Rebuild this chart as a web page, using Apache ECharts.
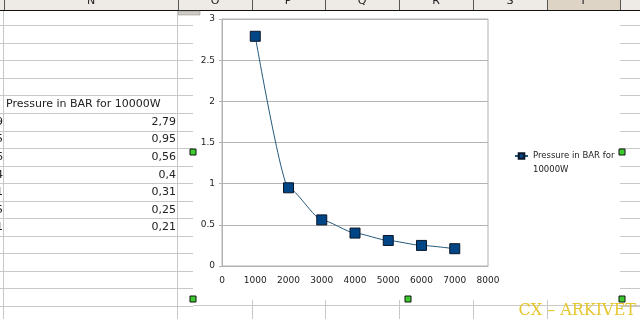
<!DOCTYPE html>
<html><head><meta charset="utf-8">
<script src="https://cdn.jsdelivr.net/npm/echarts@6/dist/echarts.min.js"></script>
<style>html,body{margin:0;padding:0;background:#fff}#c{width:640px;height:319px}</style>
</head><body><div id="c"></div>
<script>
// ---- data ----
const seriesName = 'Pressure in BAR for 10000W';
const watts = [1000, 2000, 3000, 4000, 5000, 6000, 7000];
const pressure = [2.79, 0.95, 0.56, 0.4, 0.31, 0.25, 0.21];
const cutDigits = ['9', '5', '6', '4', '1', '5', '1'];
const columnLetters = ['N', 'O', 'P', 'Q', 'R', 'S', 'T'];

// ---- layout helpers (styling only) ----
const colCenters = [91, 215, 288, 362, 436, 510, 583];
const colSeps = [178, 252, 325, 399, 473, 547, 620];
const rowY0 = 25.2, rowStep = 17.55;
const F = '"DejaVu Sans", sans-serif';

const g = [];
// header
g.push({type:'rect', shape:{x:0,y:0,width:640,height:10}, style:{fill:'#eeebe6'}, silent:true});
g.push({type:'rect', shape:{x:547,y:0,width:73,height:10}, style:{fill:'#ddd4c6'}, silent:true});
colSeps.forEach(x => g.push({type:'line', shape:{x1:x+0.5,y1:0,x2:x+0.5,y2:10}, style:{stroke:'#555',lineWidth:1}, silent:true}));
g.push({type:'line', shape:{x1:4.5,y1:0,x2:4.5,y2:10}, style:{stroke:'#555',lineWidth:1}, silent:true});
columnLetters.forEach((L,i) => g.push({type:'text', x:colCenters[i], y:7, style:{text:L, font:'11px '+F, fill:'#222', align:'center', verticalAlign:'bottom'}, silent:true}));
g.push({type:'line', shape:{x1:0,y1:10.5,x2:640,y2:10.5}, style:{stroke:'#111',lineWidth:1}, silent:true});
g.push({type:'rect', shape:{x:178,y:11,width:22,height:4}, style:{fill:'#cfcbc4', stroke:'#888', lineWidth:0.5}, silent:true});
// row lines
for (let k = 0; k < 17; k++) {
  const y = Math.round(rowY0 + k*rowStep) + 0.5;
  g.push({type:'line', shape:{x1:0,y1:y,x2:193,y2:y}, style:{stroke:'#c8c8c8',lineWidth:1}, silent:true});
  g.push({type:'line', shape:{x1:620,y1:y,x2:640,y2:y}, style:{stroke:'#c8c8c8',lineWidth:1}, silent:true});
}
g.push({type:'line', shape:{x1:193,y1:305.5,x2:640,y2:305.5}, style:{stroke:'#c8c8c8',lineWidth:1}, silent:true});
g.push({type:'line', shape:{x1:3.5,y1:11,x2:3.5,y2:319}, style:{stroke:'#c8c8c8',lineWidth:1}, silent:true});
g.push({type:'line', shape:{x1:177.5,y1:11,x2:177.5,y2:319}, style:{stroke:'#c8c8c8',lineWidth:1}, silent:true});
[252,325,399,473,547].forEach(x => g.push({type:'line', shape:{x1:x+0.5,y1:300,x2:x+0.5,y2:319}, style:{stroke:'#c8c8c8',lineWidth:1}, silent:true}));
// table text
g.push({type:'text', x:6, y:104, style:{text:seriesName, font:'11px '+F, fill:'#222', verticalAlign:'middle'}, silent:true});
pressure.forEach((v,i) => {
  const yc = 122 + i*rowStep;
  g.push({type:'text', x:176, y:yc, style:{text:String(v).replace('.', ','), font:'11px '+F, fill:'#222', align:'right', verticalAlign:'middle'}, silent:true});
  g.push({type:'text', x:3, y:yc, style:{text:cutDigits[i], font:'11px '+F, fill:'#222', align:'right', verticalAlign:'middle'}, silent:true});
});
// selection handles
[[193,152],[193,299],[408,299],[622,152],[622,299]].forEach(p => g.push({type:'rect', shape:{x:p[0]-3,y:p[1]-3,width:6,height:6}, style:{fill:'#3ccc2e', stroke:'#111', lineWidth:1}, silent:true}));
// watermark
g.push({type:'text', x:636, y:319, style:{text:'CX – ARKIVET', font:'16px "DejaVu Serif", "Liberation Serif", serif', fill:'#e6c62e', align:'right', verticalAlign:'bottom'}, silent:true});

const chart = echarts.init(document.getElementById('c'), null, {renderer:'canvas'});
chart.setOption({
  animation: false,
  backgroundColor: '#fff',
  graphic: g,
  grid: {left:222, right:152, top:19, bottom:53, show:true, borderColor:'#b3b3b3', borderWidth:1},
  legend: {
    left: 509, top: 130, orient:'vertical',
    itemWidth: 13, itemHeight: 7,  itemGap: 2,
    formatter: n => '\n' + n,
    textStyle: {fontFamily:F, fontSize:8.5, color:'#222', width:92, overflow:'break', lineHeight:14}
  },
  xAxis: {
    type:'value', min:0, max:8000, interval:1000,
    axisLine:{show:true, lineStyle:{color:'#b3b3b3'}},
    axisTick:{show:false},
    splitLine:{show:false},
    axisLabel:{fontFamily:F, fontSize:9, color:'#222', margin:10, formatter: v => String(v)}
  },
  yAxis: {
    type:'value', min:0, max:3, interval:0.5,
    axisLine:{show:true, lineStyle:{color:'#b3b3b3'}},
    axisTick:{show:true, length:3, lineStyle:{color:'#b3b3b3'}},
    splitLine:{show:true, lineStyle:{color:'#b3b3b3'}},
    axisLabel:{fontFamily:F, fontSize:9, color:'#222', margin:7}
  },
  series: [{
    name: seriesName,
    type: 'line',
    data: watts.map((w,i) => [w, pressure[i]]),
    smooth: 0.2,
    smoothMonotone: 'x',
    symbol: 'rect', symbolSize: 10,
    lineStyle: {color:'#25597e', width:1},
    itemStyle: {color:'#004586', borderColor:'#0a1628', borderWidth:1}
  }]
});
</script></body></html>
